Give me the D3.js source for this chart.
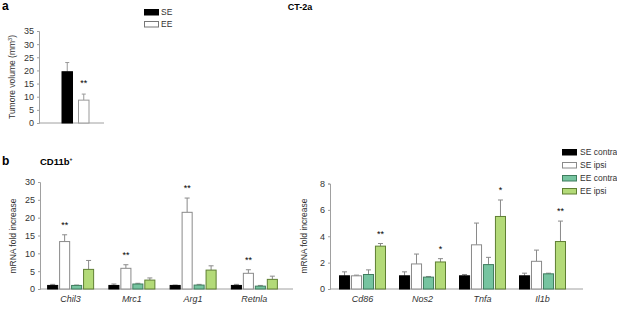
<!DOCTYPE html>
<html>
<head>
<meta charset="utf-8">
<script src="https://cdn.jsdelivr.net/npm/d3@7"></script>
<style>
  body { margin: 0; background: #fff; }
  svg { font-family: Arial, "Liberation Sans", sans-serif; }
</style>
</head>
<body>
<svg width="617" height="327"></svg>
<script>
// panel a: tumour volume
var aGroups = ["SE", "EE"];
var aMeans = [19.5, 8.7];
var aErr = [3.5, 2.3];
var aTicks = [0, 5, 10, 15, 20, 25, 30, 35];

// panel b: mRNA fold increase
var seriesNames = ["SE contra", "SE ipsi", "EE contra", "EE ipsi"];
var leftGenes = ["Chil3", "Mrc1", "Arg1", "Retnla"];
var leftMeans = [
  [1.0, 13.3, 1.0, 5.5],
  [1.0, 5.8, 1.4, 2.5],
  [1.0, 21.5, 1.1, 5.3],
  [1.0, 4.4, 0.8, 2.7]
];
var leftErr = [
  [0.3, 1.9, 0.1, 2.5],
  [0.4, 1.0, 0.2, 0.6],
  [0.1, 4.0, 0.2, 1.2],
  [0.3, 1.0, 0.2, 0.9]
];
var leftStars = ["**", "**", "**", "**"]; // on SE ipsi
var leftTicks = [0, 5, 10, 15, 20, 25, 30];

var rightGenes = ["Cd86", "Nos2", "Tnfa", "Il1b"];
var rightMeans = [
  [1.0, 1.0, 1.1, 3.25],
  [1.0, 1.9, 0.9, 2.05],
  [1.0, 3.35, 1.85, 5.5],
  [1.0, 2.1, 1.15, 3.6]
];
var rightErr = [
  [0.3, 0.05, 0.35, 0.2],
  [0.3, 0.75, 0.05, 0.25],
  [0.1, 1.65, 0.55, 1.25],
  [0.2, 0.85, 0.05, 1.55]
];
var rightStars = ["**", "*", "*", "**"]; // on EE ipsi
var rightTicks = [0, 2, 4, 6, 8];

var fills = ["#000000", "#ffffff", "#76c4a0", "#b3da78"];
var strokes = ["#000000", "#8a8a8a", "#3f7d5e", "#5f7f33"];

var svg = d3.select("svg");
var axisCol = "#a0a0a0";
var textCol = "#333";

function styleAxis(g) {
  g.select(".domain").attr("stroke", axisCol);
  g.selectAll(".tick line").attr("stroke", axisCol);
  g.selectAll(".tick text").attr("fill", textCol).style("font-size", "9px");
}

/* panel labels
------------------------------------------------------------ */
svg.append("text").attr("x", 2).attr("y", 10).style("font-size", "12px").style("font-weight", "bold").text("a");
svg.append("text").attr("x", 2).attr("y", 165).style("font-size", "12px").style("font-weight", "bold").text("b");
svg.append("text").attr("x", 300).attr("y", 10).attr("text-anchor", "middle")
  .style("font-size", "9px").style("font-weight", "bold").text("CT-2a");
var cd = svg.append("text").attr("x", 40).attr("y", 165).style("font-size", "9.5px").style("font-weight", "bold");
cd.append("tspan").text("CD11b");
cd.append("tspan").attr("dy", -4).style("font-size", "5px").text("+");

/* panel a
------------------------------------------------------------ */
var ay = d3.scaleLinear().domain([0, 35]).range([123, 31]);
var ax = d3.scaleBand().domain(aGroups).range([62, 89]).paddingInner(0.364);

svg.append("g").attr("transform", "translate(39,0)")
  .call(d3.axisLeft(ay).tickValues(aTicks).tickSize(2).tickPadding(3))
  .call(styleAxis);
svg.append("line").attr("x1", 39).attr("x2", 104).attr("y1", ay(0)).attr("y2", ay(0)).attr("stroke", axisCol);

aGroups.forEach(function(k, i) {
  var cx = ax(k) + ax.bandwidth() / 2;
  svg.append("line").attr("x1", cx).attr("x2", cx)
    .attr("y1", ay(aMeans[i])).attr("y2", ay(aMeans[i] + aErr[i])).attr("stroke", "#999");
  svg.append("line").attr("x1", cx - 2).attr("x2", cx + 2)
    .attr("y1", ay(aMeans[i] + aErr[i])).attr("y2", ay(aMeans[i] + aErr[i])).attr("stroke", "#999");
  svg.append("rect").attr("x", ax(k)).attr("width", ax.bandwidth())
    .attr("y", ay(aMeans[i])).attr("height", ay(0) - ay(aMeans[i]))
    .attr("fill", fills[i]).attr("stroke", i == 0 ? "#000" : "#999");
});
svg.append("text").attr("x", ax("EE") + ax.bandwidth() / 2).attr("y", ay(aMeans[1] + aErr[1]) - 8)
  .attr("text-anchor", "middle").style("font-size", "9px").text("**");

var aLab = svg.append("text").attr("transform", "translate(15,77) rotate(-90)")
  .attr("text-anchor", "middle").attr("fill", textCol).style("font-size", "8.5px");
aLab.append("tspan").text("Tumore volume (mm");
aLab.append("tspan").attr("dy", -3).style("font-size", "5.5px").text("3");
aLab.append("tspan").attr("dy", 3).text(")");

// legend a
aGroups.forEach(function(k, i) {
  svg.append("rect").attr("x", 144.5).attr("y", 9.5 + i * 12).attr("width", 14).attr("height", 5.5)
    .attr("fill", fills[i]).attr("stroke", i == 0 ? "#000" : "#777");
  svg.append("text").attr("x", 161).attr("y", 15 + i * 12).attr("fill", textCol)
    .style("font-size", "8.5px").text(k);
});

/* panel b
------------------------------------------------------------ */
function drawGroup(opts) {
  var y = d3.scaleLinear().domain([0, opts.max]).range([289, opts.top]);
  var x0 = d3.scaleBand().domain(opts.genes).range(opts.range);
  var x1 = d3.scaleBand().domain(seriesNames).range([x0.bandwidth() / 2 - 23, x0.bandwidth() / 2 + 23]).paddingInner(0.16);

  svg.append("g").attr("transform", "translate(" + opts.axisX + ",0)")
    .call(d3.axisLeft(y).tickValues(opts.ticks).tickSize(2).tickPadding(3))
    .call(styleAxis);
  svg.append("line").attr("x1", opts.axisX).attr("x2", opts.axisEnd)
    .attr("y1", y(0)).attr("y2", y(0)).attr("stroke", axisCol);

  opts.genes.forEach(function(gname, gi) {
    var g = svg.append("g").attr("transform", "translate(" + x0(gname) + ",0)");
    seriesNames.forEach(function(s, si) {
      var v = opts.means[gi][si], e = opts.err[gi][si];
      var cx = x1(s) + x1.bandwidth() / 2;
      g.append("line").attr("x1", cx).attr("x2", cx).attr("y1", y(v)).attr("y2", y(v + e)).attr("stroke", "#8a8a8a");
      g.append("line").attr("x1", cx - 2.5).attr("x2", cx + 2.5).attr("y1", y(v + e)).attr("y2", y(v + e)).attr("stroke", "#8a8a8a");
      g.append("rect").attr("x", x1(s)).attr("width", x1.bandwidth())
        .attr("y", y(v)).attr("height", y(0) - y(v))
        .attr("fill", fills[si]).attr("stroke", strokes[si]);
    });
    var ss = opts.starSeries;
    var top = opts.means[gi][ss] + opts.err[gi][ss];
    g.append("text").attr("x", x1(seriesNames[ss]) + x1.bandwidth() / 2).attr("y", y(top) - 7)
      .attr("text-anchor", "middle").style("font-size", "9px").text(opts.stars[gi]);
    g.append("text").attr("x", x0.bandwidth() / 2).attr("y", 302).attr("text-anchor", "middle")
      .attr("fill", textCol).style("font-size", "9px").style("font-style", "italic").text(gname);
  });

  svg.append("text").attr("transform", "translate(" + opts.labelX + ",236) rotate(-90)")
    .attr("text-anchor", "middle").attr("fill", textCol).style("font-size", "8.5px").text("mRNA fold increase");
}

drawGroup({ genes: leftGenes, means: leftMeans, err: leftErr, stars: leftStars, starSeries: 1,
  max: 30, top: 182, ticks: leftTicks, range: [40, 285], axisX: 40, axisEnd: 293, labelX: 16 });
drawGroup({ genes: rightGenes, means: rightMeans, err: rightErr, stars: rightStars, starSeries: 3,
  max: 8, top: 183.5, ticks: rightTicks, range: [332.5, 572.5], axisX: 330, axisEnd: 583, labelX: 307 });

// legend b
seriesNames.forEach(function(s, i) {
  svg.append("rect").attr("x", 562.5).attr("y", 149.5 + i * 13).attr("width", 14).attr("height", 5.5)
    .attr("fill", fills[i]).attr("stroke", strokes[i]);
  svg.append("text").attr("x", 580).attr("y", 155 + i * 13).attr("fill", textCol)
    .style("font-size", "8.5px").text(s);
});
</script>
</body>
</html>
